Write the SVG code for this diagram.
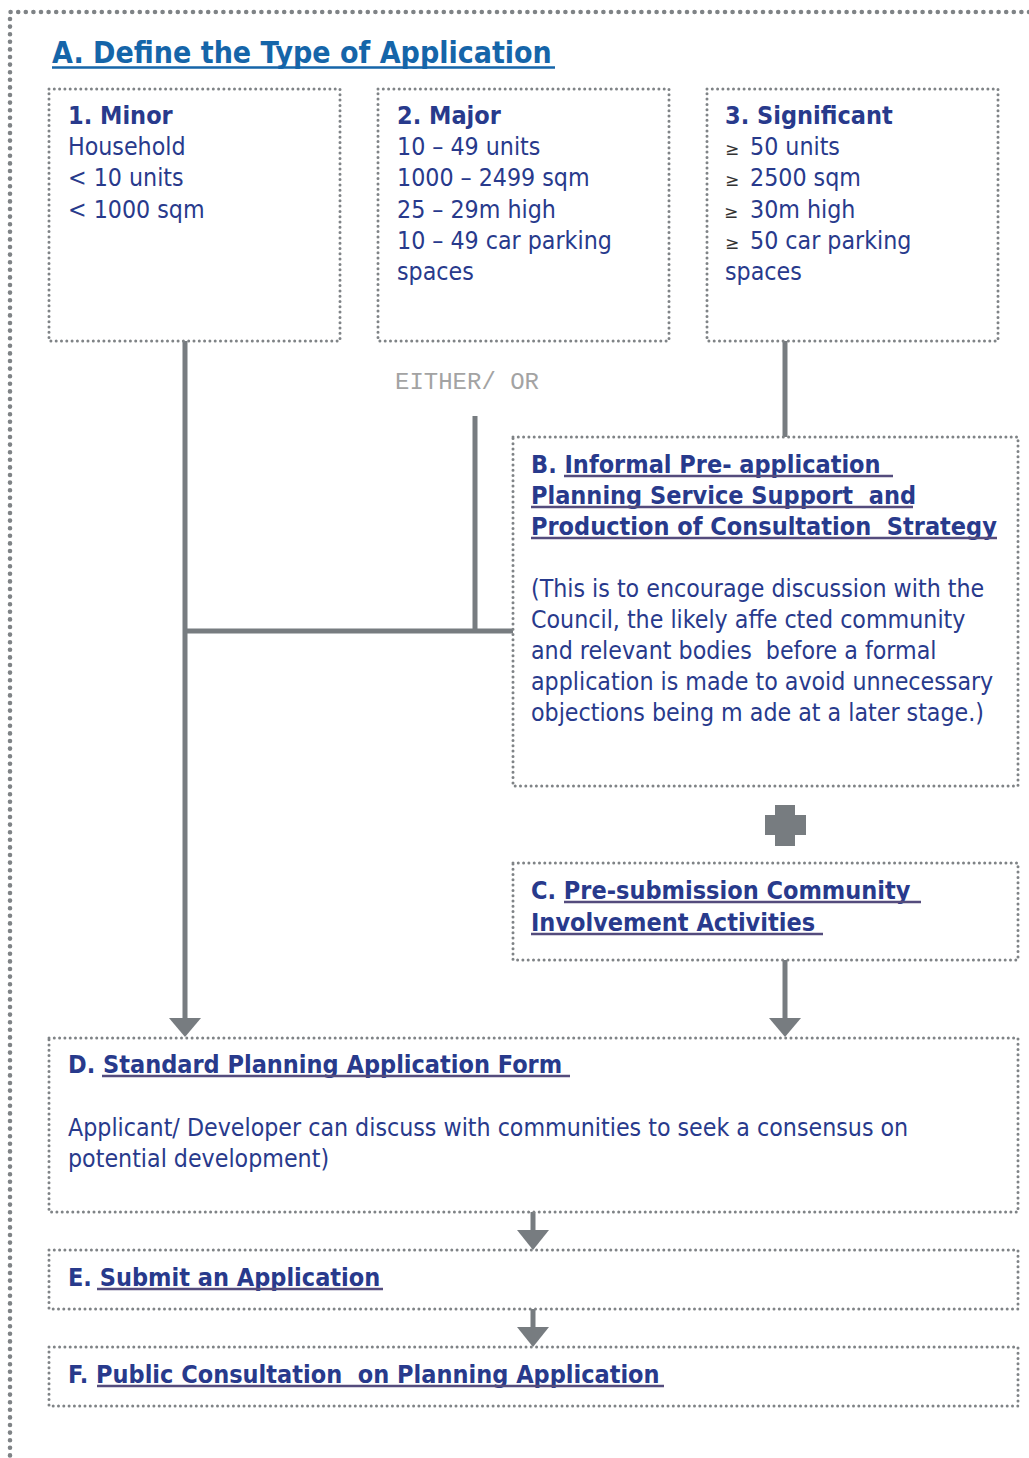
<svg xmlns="http://www.w3.org/2000/svg" width="1029" height="1458" viewBox="0 0 1029 1458">
<style>
.bx{fill:#fff;stroke:#7f8386;stroke-width:3;stroke-dasharray:0 5.3;stroke-linecap:round}
.outer{fill:none;stroke:#7f8386;stroke-width:4.6;stroke-dasharray:0 7.6;stroke-linecap:round}
.t{font-family:"DejaVu Sans Condensed","DejaVu Sans",sans-serif;font-size:24.7px;fill:#283a8c;white-space:pre}
.b{font-weight:bold;font-size:25px}
.ul{stroke:#544c7d;stroke-width:2.6}
.ln{stroke:#777c80;stroke-width:5;fill:none}
.ah{fill:#777c80}
.ge{font-family:"DejaVu Sans",sans-serif;font-size:17px;fill:#333}
</style>
<rect width="1029" height="1458" fill="#fff"/>
<path class="outer" d="M1029 12 H10 V1458"/>
<g id="title">
<text x="52" y="63" class="t b" style="font-size:30px;fill:#1565a9">A. Define the Type of Application</text>
<line x1="52" y1="67.5" x2="555" y2="67.5" stroke="#1565a9" stroke-width="2.6"/>
</g>
<g id="connectors">
<path class="ln" d="M185 341 V1020"/>
<path class="ln" d="M185 631 H513"/>
<path class="ln" d="M475 416 V631"/>
<path class="ln" d="M785 341 V437"/>
<path class="ln" d="M785 960 V1020"/>
<path class="ln" d="M533 1212 V1232"/>
<path class="ln" d="M533 1309 V1329"/>
<polygon class="ah" points="169,1018 201,1018 185,1037"/>
<polygon class="ah" points="769,1018 801,1018 785,1037"/>
<polygon class="ah" points="517,1230 549,1230 533,1250"/>
<polygon class="ah" points="517,1327 549,1327 533,1347"/>
<text x="395" y="389" style="font-family:'Liberation Mono',monospace;font-size:24px;fill:#a3a3a3;white-space:pre">EITHER/ OR</text>
<path class="ah" d="M775 805 H795 V815 H806 V835 H795 V846 H775 V835 H765 V815 H775 Z"/>
</g>
<g id="n1">
<rect class="bx" x="49" y="89" width="291" height="252"/>
<text class="t" x="68"><tspan y="124" class="b">1. Minor</tspan><tspan x="68" y="155">Household</tspan><tspan x="68" y="186">&lt; 10 units</tspan><tspan x="68" y="218">&lt; 1000 sqm</tspan></text>
</g>
<g id="n2">
<rect class="bx" x="378" y="89" width="291" height="252"/>
<text class="t" x="397"><tspan y="124" class="b">2. Major</tspan><tspan x="397" y="155">10 – 49 units</tspan><tspan x="397" y="186">1000 – 2499 sqm</tspan><tspan x="397" y="218">25 – 29m high</tspan><tspan x="397" y="249">10 – 49 car parking</tspan><tspan x="397" y="280">spaces</tspan></text>
</g>
<g id="n3">
<rect class="bx" x="707" y="89" width="291" height="252"/>
<text class="t b" x="725" y="124">3. Significant</text>
<text class="ge" x="725" y="155">≥</text>
<text class="ge" x="725" y="186">≥</text>
<text class="ge" x="724" y="218">≥</text>
<text class="ge" x="725" y="249">≥</text>
<text class="t" x="750"><tspan y="155">50 units</tspan><tspan x="750" y="186">2500 sqm</tspan><tspan x="750" y="218">30m high</tspan><tspan x="750" y="249">50 car parking</tspan><tspan x="725" y="280">spaces</tspan></text>
</g>
<g id="nB">
<rect class="bx" x="513" y="437" width="505" height="349"/>
<text class="t b" x="531"><tspan y="473">B. Informal Pre- application</tspan><tspan x="531" y="504">Planning Service Support  and</tspan><tspan x="531" y="535">Production of Consultation  Strategy</tspan></text>
<line class="ul" x1="564" y1="476" x2="893" y2="476"/>
<line class="ul" x1="531" y1="507" x2="913" y2="507"/>
<line class="ul" x1="531" y1="538" x2="997" y2="538"/>
<text class="t" x="531"><tspan y="597">(This is to encourage discussion with the</tspan><tspan x="531" y="628">Council, the likely affe cted community</tspan><tspan x="531" y="659">and relevant bodies  before a formal</tspan><tspan x="531" y="690">application is made to avoid unnecessary</tspan><tspan x="531" y="721">objections being m ade at a later stage.)</tspan></text>
</g>
<g id="nC">
<rect class="bx" x="513" y="863" width="505" height="97"/>
<text class="t b" x="531"><tspan y="899">C. Pre-submission Community </tspan><tspan x="531" y="931">Involvement Activities</tspan></text>
<line class="ul" x1="564" y1="902" x2="921" y2="902"/>
<line class="ul" x1="531" y1="934" x2="823" y2="934"/>
</g>
<g id="nD">
<rect class="bx" x="49" y="1038" width="969" height="174"/>
<text class="t b" x="68" y="1073">D. Standard Planning Application Form </text>
<line class="ul" x1="102" y1="1076" x2="570" y2="1076"/>
<text class="t" x="68"><tspan y="1136">Applicant/ Developer can discuss with communities to seek a consensus on</tspan><tspan x="68" y="1167">potential development)</tspan></text>
</g>
<g id="nE">
<rect class="bx" x="49" y="1250" width="969" height="59"/>
<text class="t b" x="68" y="1286">E. Submit an Application </text>
<line class="ul" x1="97" y1="1289" x2="383" y2="1289"/>
</g>
<g id="nF">
<rect class="bx" x="49" y="1347" width="969" height="59"/>
<text class="t b" x="68" y="1383">F. Public Consultation  on Planning Application </text>
<line class="ul" x1="97" y1="1386" x2="664" y2="1386"/>
</g>
</svg>
